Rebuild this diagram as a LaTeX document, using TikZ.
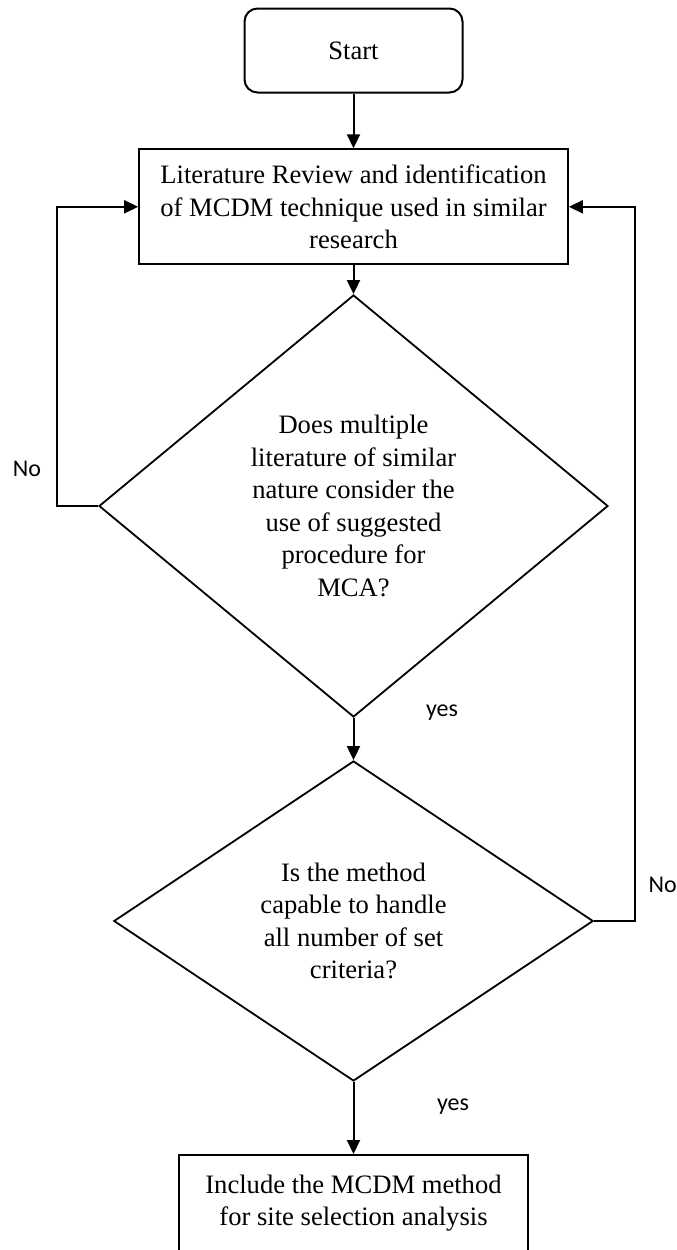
\documentclass[tikz,border=0pt]{standalone}
\usepackage{fontspec}
\setmainfont{Liberation Serif}
\newfontfamily\answerfont{Carlito}
\usetikzlibrary{shapes.geometric,arrows.meta}

\begin{document}
\begin{tikzpicture}[x=1pt,y=-1pt,
  every node/.style={inner sep=0pt, font=\fontsize{26.6}{32.5}\selectfont},
  flowbox/.style={draw, line width=2pt, align=center},
  startbox/.style={flowbox, rounded corners=13pt},
  decision/.style={draw, diamond, line width=1.8pt, align=center},
  flow/.style={line width=2pt, -{Triangle[length=14pt,width=13pt]}},
  answer/.style={font=\answerfont\fontsize{24}{28}\selectfont, anchor=base},
]
\useasboundingbox (0,0) rectangle (677,1250);

% process steps
\node[startbox, minimum width=218pt, minimum height=84pt] (start) at (353.5,50.5) {Start};
\node[flowbox, minimum width=428.7pt, minimum height=115pt] (lit) at (353.5,206.8)
  {Literature Review and identification\\ of MCDM technique used in similar\\ research};
\node[decision, minimum width=509pt, minimum height=422pt] (q1) at (353.5,506)
  {Does multiple\\ literature of similar\\ nature consider the\\ use of suggested\\ procedure for\\ MCA?};
\node[decision, minimum width=479.4pt, minimum height=320pt] (q2) at (353.5,921)
  {Is the method\\ capable to handle\\ all number of set\\ criteria?};
\node[flowbox, anchor=north, minimum width=349.5pt, minimum height=96pt, inner ysep=15pt] (incl) at (353.5,1154)
  {Include the MCDM method\\ for site selection analysis};

% main flow
\draw[flow] (start) -- (lit);
\draw[flow] (lit) -- (q1);
\draw[flow] (q1) -- (q2);
\draw[flow] (q2) -- (incl);

% loops back to the literature review
\draw[flow] (q1.west) -- ++(-41,0) |- (lit.west);
\draw[flow] (q2.east) -- ++(40.5,0) |- (lit.east);

% branch labels
\node[answer] (no1) at (27,476) {No};
\node[answer] (yes1) at (442,716) {yes};
\node[answer, anchor=base west] (no2) at (648.3,892.7) {No};
\node[answer] (yes2) at (453,1110.7) {yes};
\end{tikzpicture}
\end{document}
